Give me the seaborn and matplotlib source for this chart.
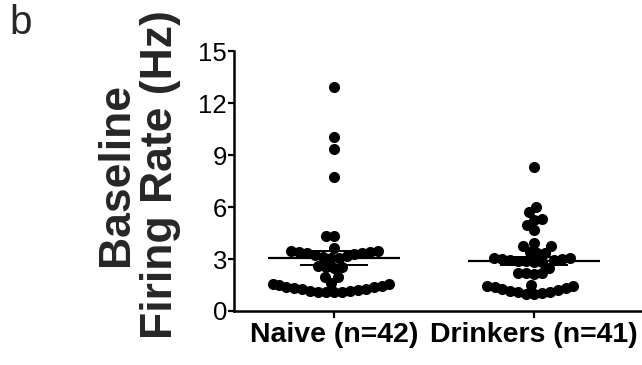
import numpy as np
import pandas as pd
import matplotlib
matplotlib.use("Agg")
import matplotlib.pyplot as plt
from matplotlib.collections import PathCollection
import seaborn as sns

# Baseline firing rates (Hz) of individual neurons
naive = [12.93, 10.04, 9.35, 7.73, 4.33, 4.33, 3.64,
         3.48, 3.45, 3.42, 3.39, 3.36, 3.33, 3.28, 3.22, 3.16, 3.11, 3.07, 3.03,
         2.58, 2.55, 2.52, 2.50,
         1.98, 1.95,
         1.07, 1.08, 1.10, 1.12, 1.15, 1.18, 1.21, 1.25, 1.29, 1.33,
         1.37, 1.41, 1.45, 1.49, 1.53, 1.57, 1.61]
drinkers = [8.29, 6.0, 5.71, 5.31, 5.25, 4.96, 4.67, 3.92,
            3.77, 3.74,
            3.40, 3.37, 3.34,
            3.06, 3.03, 3.00, 2.98, 2.95, 2.93, 2.90, 2.88, 2.85, 2.82,
            2.50,
            2.22, 2.20, 2.18, 2.16,
            1.52, 1.47, 1.42, 1.37, 1.32, 1.27, 1.22, 1.16, 1.11, 1.07,
            1.03, 1.00, 0.98]
group_names = ["Naive", "Drinkers"]
y_ticks = [0, 3, 6, 9, 12, 15]

series = [naive, drinkers]
labels = [f"{g} (n={len(v)})" for g, v in zip(group_names, series)]
df = pd.DataFrame({
    "group": np.repeat(labels, [len(v) for v in series]),
    "rate": np.concatenate(series),
})

sns.set_theme(style="ticks")
plt.rcParams["font.family"] = ["Liberation Sans", "DejaVu Sans"]

fig = plt.figure(figsize=(6.42, 3.65), dpi=100)
ax = fig.add_axes([0.3645, 0.148, 0.6355, 0.712])

# beeswarm layout, then packed sideways so neighbouring dots overlap
layout_size, dot_size, squeeze = 7.2, 8.0, 0.76
sns.swarmplot(data=df, x="group", y="rate", order=labels, color="black",
              size=layout_size, linewidth=0, ax=ax, warn_thresh=1)
ax.set_ylim(0, 15)
ax.set_xlim(-0.5, 1.54)
fig.canvas.draw()
for coll in ax.collections:
    if isinstance(coll, PathCollection) and "draw" in coll.__dict__:
        del coll.draw
        xy = np.asarray(coll.get_offsets()).copy()
        center = np.round(xy[:, 0])
        xy[:, 0] = center + (xy[:, 0] - center) * squeeze
        coll.set_offsets(xy)
        coll.set_sizes(coll.get_sizes() * (dot_size / layout_size) ** 2)

# mean with SEM for each group
for i, vals in enumerate(series):
    arr = np.asarray(vals)
    m = arr.mean()
    sem = arr.std(ddof=1) / np.sqrt(len(arr))
    ax.hlines(m, i - 0.33, i + 0.33, color="black", lw=1.6, zorder=4)
    ax.hlines([m - sem, m + sem], i - 0.17, i + 0.17, color="black", lw=1.4, zorder=4)
    ax.vlines(i, m - sem, m + sem, color="black", lw=1.4, zorder=4)

ax.set_ylim(0, 15)
ax.set_xlim(-0.5, 1.54)
ax.set_yticks(y_ticks)
ax.set_yticklabels([str(t) for t in y_ticks])
ax.set_xlabel("")
ax.set_ylabel("")

for side in ["top", "right"]:
    ax.spines[side].set_visible(False)
for side in ["left", "bottom"]:
    ax.spines[side].set_linewidth(1.8)
    ax.spines[side].set_color("black")

ax.tick_params(axis="y", length=4, width=1.6, pad=1, labelsize=18.5, colors="black")
ax.tick_params(axis="x", length=5, width=1.6, pad=3, labelsize=20.5, colors="black")
for t in ax.get_xticklabels():
    t.set_fontweight("bold")

fig.text(0.216, 0.523, "Baseline\nFiring Rate (Hz)", rotation=90, ha="center",
         va="center", multialignment="center", fontsize=32, fontweight="bold",
         linespacing=1.1)
fig.text(0.014, 0.99, "b", ha="left", va="top", fontsize=29)

fig.savefig("out.png", dpi=100)
